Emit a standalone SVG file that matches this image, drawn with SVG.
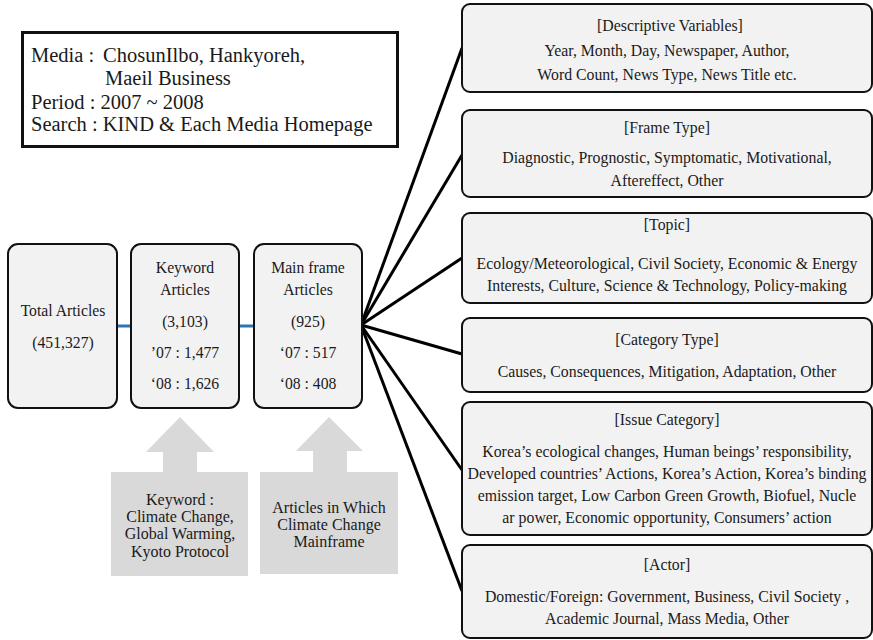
<svg xmlns="http://www.w3.org/2000/svg" width="873" height="640" viewBox="0 0 873 640">
<style>
text{font-family:"Liberation Serif","Times New Roman",serif;fill:#1a1a1a;}
.t15{font-size:15.7px;text-anchor:middle;}
.t16{font-size:16px;text-anchor:middle;}
.t14{font-size:15.8px;text-anchor:middle;}
.media{font-size:20.5px;}
.box{fill:#f2f2f2;stroke:#111;stroke-width:2;}
.grey{fill:#d9d9d9;stroke:none;}
.conn{stroke:#000;stroke-width:3;fill:none;}
.blue{stroke:#2e75b6;stroke-width:3;fill:none;}
</style>
<rect width="873" height="640" fill="#fff"/>
<g id="media">
<rect x="22.5" y="32.5" width="375" height="114" fill="#fff" stroke="#111" stroke-width="3"/>
<text class="media" x="31" y="62">Media :</text>
<text class="media" x="103" y="62">ChosunIlbo, Hankyoreh,</text>
<text class="media" x="105" y="85">Maeil Business</text>
<text class="media" x="31" y="109">Period : 2007 ~ 2008</text>
<text class="media" x="31" y="131">Search : KIND &amp; Each Media Homepage</text>
</g>
<g id="connectors">
<line class="blue" x1="117" y1="326" x2="131" y2="326"/>
<line class="blue" x1="239" y1="326" x2="254" y2="326"/>
<line class="conn" x1="361" y1="325" x2="462" y2="48"/>
<line class="conn" x1="361" y1="325" x2="462" y2="155"/>
<line class="conn" x1="361" y1="325" x2="462" y2="258"/>
<line class="conn" x1="361" y1="325" x2="462" y2="354"/>
<line class="conn" x1="361" y1="325" x2="462" y2="470"/>
<line class="conn" x1="361" y1="325" x2="462" y2="591"/>
</g>
<g id="total">
<rect class="box" x="8" y="244" width="109" height="164" rx="10"/>
<text class="t15" x="63" y="316">Total Articles</text>
<text class="t15" x="63" y="348">(451,327)</text>
</g>
<g id="keyword">
<rect class="box" x="131" y="244" width="108" height="164" rx="10"/>
<text class="t15" x="185" y="273">Keyword</text>
<text class="t15" x="185" y="295">Articles</text>
<text class="t15" x="185" y="327">(3,103)</text>
<text class="t15" x="185" y="358">’07 : 1,477</text>
<text class="t15" x="185" y="389">‘08 : 1,626</text>
</g>
<g id="mainframe">
<rect class="box" x="254" y="244" width="108" height="164" rx="10"/>
<text class="t15" x="308" y="273">Main frame</text>
<text class="t15" x="308" y="295">Articles</text>
<text class="t15" x="308" y="327">(925)</text>
<text class="t15" x="308" y="358">‘07 : 517</text>
<text class="t15" x="308" y="389">‘08 : 408</text>
</g>
<g id="keyword-source">
<polygon class="grey" points="180,417 214,452 197,452 197,473 163,473 163,452 146,452"/>
<rect class="grey" x="111" y="472" width="137" height="104"/>
<text class="t16" x="180" y="505">Keyword :</text>
<text class="t16" x="180" y="522">Climate Change,</text>
<text class="t16" x="180" y="539">Global Warming,</text>
<text class="t16" x="180" y="557">Kyoto Protocol</text>
</g>
<g id="mainframe-source">
<polygon class="grey" points="329,417 363,451 347,451 347,473 313,473 313,451 296,451"/>
<rect class="grey" x="260" y="472" width="138" height="102"/>
<text class="t16" x="329" y="513">Articles in Which</text>
<text class="t16" x="329" y="530">Climate Change</text>
<text class="t16" x="329" y="547">Mainframe</text>
</g>
<g id="descriptive">
<rect class="box" x="462" y="4" width="410" height="88" rx="8"/>
<text class="t14" x="670" y="31">[Descriptive Variables]</text>
<text class="t14" x="667" y="56">Year, Month, Day, Newspaper, Author,</text>
<text class="t14" x="667" y="80">Word Count, News Type, News Title etc.</text>
</g>
<g id="frametype">
<rect class="box" x="462" y="110" width="410" height="87" rx="8"/>
<text class="t14" x="667" y="133">[Frame Type]</text>
<text class="t14" x="667" y="163">Diagnostic, Prognostic, Symptomatic, Motivational,</text>
<text class="t14" x="667" y="186">Aftereffect, Other</text>
</g>
<g id="topic">
<rect class="box" x="462" y="213" width="410" height="90" rx="8"/>
<text class="t14" x="667" y="230">[Topic]</text>
<text class="t14" x="667" y="269">Ecology/Meteorological, Civil Society, Economic &amp; Energy</text>
<text class="t14" x="667" y="291">Interests, Culture, Science &amp; Technology, Policy-making</text>
</g>
<g id="categorytype">
<rect class="box" x="462" y="318" width="410" height="74" rx="8"/>
<text class="t14" x="667" y="345">[Category Type]</text>
<text class="t14" x="667" y="377">Causes, Consequences, Mitigation, Adaptation, Other</text>
</g>
<g id="issuecategory">
<rect class="box" x="462" y="402" width="410" height="133" rx="8"/>
<text class="t14" x="667" y="425">[Issue Category]</text>
<text class="t14" x="667" y="457">Korea’s ecological changes, Human beings’ responsibility,</text>
<text class="t14" x="667" y="479">Developed countries’ Actions, Korea’s Action, Korea’s binding</text>
<text class="t14" x="667" y="501">emission target, Low Carbon Green Growth,  Biofuel, Nucle</text>
<text class="t14" x="667" y="523">ar power, Economic opportunity, Consumers’ action</text>
</g>
<g id="actor">
<rect class="box" x="462" y="545" width="410" height="93" rx="8"/>
<text class="t14" x="667" y="570">[Actor]</text>
<text class="t14" x="667" y="602">Domestic/Foreign: Government, Business, Civil Society ,</text>
<text class="t14" x="667" y="624">Academic Journal, Mass Media, Other</text>
</g>
</svg>
